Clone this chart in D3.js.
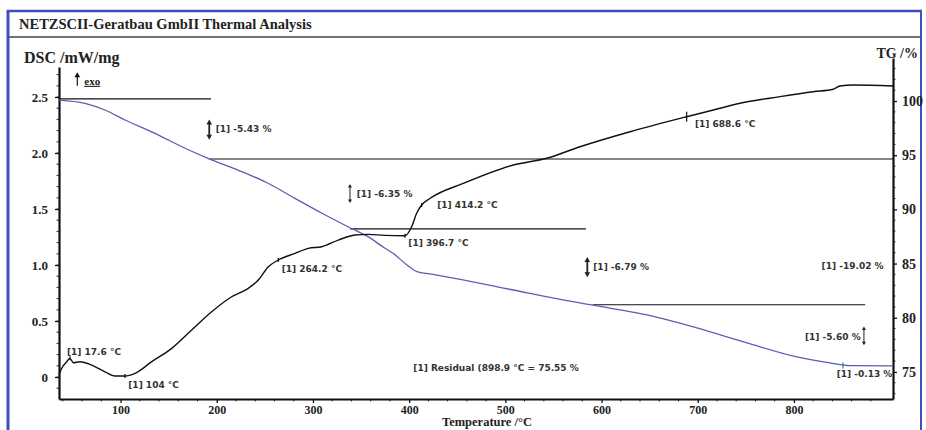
<!DOCTYPE html>
<html>
<head>
<meta charset="utf-8">
<script src="https://cdn.jsdelivr.net/npm/d3@7"></script>
<style>
body { margin: 0; background: #fff; }
</style>
</head>
<body>
<script>
// --- data ---
var dscTemp = [36, 38.8, 44, 47.4, 50.9, 57.8, 70, 83.8, 94.2, 104.6, 115, 132.4, 153.2, 173.9, 194.7, 215.5, 232.8, 243.2, 253.6, 264, 281.3, 295.2, 309.1, 326.3, 343.7, 357.5, 374.9, 395.7, 402.6, 407.8, 413, 421.9, 456.3, 508.3, 543, 577.6, 629.6, 688.5, 716.2, 743.9, 785.5, 820.1, 840.9, 847.8, 861.7, 903];
var dscVal  = [0.018, 0.078, 0.137, 0.167, 0.128, 0.137, 0.107, 0.047, 0.009, 0.009, 0.033, 0.137, 0.256, 0.42, 0.583, 0.717, 0.792, 0.866, 0.985, 1.045, 1.104, 1.149, 1.163, 1.223, 1.268, 1.274, 1.265, 1.262, 1.342, 1.462, 1.536, 1.596, 1.729, 1.893, 1.953, 2.056, 2.19, 2.324, 2.384, 2.444, 2.503, 2.547, 2.569, 2.598, 2.607, 2.598];

var tgTemp = [36, 63, 83.8, 104.6, 135.8, 167, 190.9, 222, 253.3, 281.3, 309.4, 336.4, 357.2, 374.9, 383.2, 397.7, 408.1, 421.7, 456, 508, 559.9, 595.3, 647.2, 699.2, 751.2, 803.2, 837.5, 858.2, 903];
var tgVal  = [100.09, 99.79, 99.17, 98.25, 97.02, 95.64, 94.71, 93.63, 92.41, 91.02, 89.64, 88.40, 87.48, 86.41, 85.95, 84.87, 84.25, 84.04, 83.49, 82.56, 81.64, 81.09, 80.26, 79.06, 77.68, 76.38, 75.83, 75.58, 75.55];

// step baselines (TG)
var stepFrom  = [36, 192, 338.5, 591];
var stepTo    = [194, 903, 583.8, 874];
var stepLevel = [100.2, 94.65, 88.2, 81.2];

var xTicks   = [100, 200, 300, 400, 500, 600, 700, 800];
var dscTicks = [0, 0.5, 1.0, 1.5, 2.0, 2.5];
var dscTickLabels = ["0", "0.5", "1.0", "1.5", "2.0", "2.5"];
var tgTicks  = [75, 80, 85, 90, 95, 100];

// annotations: text, temperature, DSC value of the baseline
var noteText = ["[1] 17.6 \u00B0C", "[1] 104 \u00B0C", "[1]  264.2 \u00B0C", "[1]  -5.43 %", "[1] 414.2 \u00B0C", "[1] 396.7 \u00B0C", "[1] 688.6 \u00B0C", "[1] -6.35 %", "[1]  -6.79 %", "[1] -19.02 %", "[1] -5.60 %", "[1] Residual (898.9 \u00B0C = 75.55 %", "[1] -0.13 %"];
var noteTemp = [44.3, 108, 267.5, 198.9, 429.2, 399.1, 697.1, 345.5, 591.4, 828.8, 811.5, 404.3, 844.4];
var noteVal  = [0.196, -0.098, 0.9375, 2.1875, 1.509, 1.174, 2.232, 1.607, 0.96, 0.964, 0.33, 0.054, 0.0];

// double arrows for the mass steps: temperature, DSC from, DSC to, bold?
var arrowTemp = [192.2, 338.5, 585.2, 872.8];
var arrowTop  = [2.288, 1.72, 1.06, 0.449];
var arrowBot  = [2.131, 1.556, 0.902, 0.286];
var arrowBold = [true, false, true, false];

// marked points on the DSC curve
var peakTemp = [47.4, 104.6, 264, 395.7, 413, 688.5];
var peakVal  = [0.167, 0.009, 1.045, 1.262, 1.536, 2.324];

var width = 926, height = 430;
var serif = "'Liberation Serif', 'Times New Roman', serif";
var sans = "'DejaVu Sans', Verdana, sans-serif";

var svg = d3.select("body").append("svg").attr("width", width).attr("height", height);

// frame
svg.append("line").attr("x1", 7).attr("y1", 11).attr("x2", 922).attr("y2", 11).style("stroke", "#3f4fc0").style("stroke-width", 2.5);
svg.append("line").attr("x1", 8).attr("y1", 10).attr("x2", 8).attr("y2", 430).style("stroke", "#3f4fc0").style("stroke-width", 3);
svg.append("line").attr("x1", 921).attr("y1", 10).attr("x2", 921).attr("y2", 430).style("stroke", "#3f4fc0").style("stroke-width", 2);
svg.append("line").attr("x1", 9).attr("y1", 37).attr("x2", 920).attr("y2", 37).style("stroke", "#444").style("stroke-width", 1.5);

svg.append("text").text("NETZSCII-Geratbau GmbII Thermal Analysis")
    .attr("x", 19).attr("y", 29).style("font-family", serif).style("font-weight", "bold").style("font-size", "14.5px").style("fill", "#222");

var x = d3.scaleLinear().domain([36, 903]).range([59, 893]);
var yL = d3.scaleLinear().domain([-0.196, 2.768]).range([399, 67]);
var yR = d3.scaleLinear().domain([72.5, 103.97]).range([399, 58]);

// minor ticks
var gMinor = svg.append("g").style("stroke", "#333").style("stroke-width", 1);
d3.range(40, 901, 20).forEach(function(t) {
    if (t % 100 === 0) return;
    gMinor.append("line").attr("x1", x(t)).attr("x2", x(t)).attr("y1", 399).attr("y2", 401.5);
});
d3.range(-0.1, 2.71, 0.1).forEach(function(v) {
    gMinor.append("line").attr("x1", 59).attr("x2", 56.5).attr("y1", yL(v)).attr("y2", yL(v));
});
d3.range(73, 104, 1).forEach(function(v) {
    if (v % 5 === 0) return;
    gMinor.append("line").attr("x1", 893).attr("x2", 895.5).attr("y1", yR(v)).attr("y2", yR(v));
});

var styleAxis = function(g) {
    g.select(".domain").style("stroke", "#111").style("stroke-width", 2.2);
    g.selectAll(".tick line").style("stroke", "#111").style("stroke-width", 1.3);
    g.selectAll(".tick text").style("font-family", serif).style("font-weight", "bold").style("font-size", "13px").style("fill", "#222");
};

var gx = svg.append("g").attr("transform", "translate(0,399)")
    .call(d3.axisBottom(x).tickValues(xTicks).tickSize(4).tickSizeOuter(0).tickPadding(2));
styleAxis(gx);
gx.selectAll(".tick text").style("font-size", "12px");

var gl = svg.append("g").attr("transform", "translate(59,0)")
    .call(d3.axisLeft(yL).tickValues(dscTicks).tickSize(4).tickSizeOuter(0).tickPadding(7)
        .tickFormat(function(d, i) { return dscTickLabels[i]; }));
styleAxis(gl);

var gr = svg.append("g").attr("transform", "translate(893,0)")
    .call(d3.axisRight(yR).tickValues(tgTicks).tickSize(4).tickSizeOuter(0).tickPadding(5));
styleAxis(gr);
gr.selectAll(".tick text").style("font-size", "14px");

// axis titles
svg.append("text").text("DSC /mW/mg").attr("x", 24).attr("y", 63)
    .style("font-family", serif).style("font-weight", "bold").style("font-size", "16px").style("fill", "#222");
svg.append("text").text("TG /%").attr("x", 918).attr("y", 58).attr("text-anchor", "end")
    .style("font-family", serif).style("font-weight", "bold").style("font-size", "14px").style("fill", "#222");
svg.append("text").text("Temperature /\u00B0C").attr("x", 487).attr("y", 426).attr("text-anchor", "middle")
    .style("font-family", serif).style("font-weight", "bold").style("font-size", "12.5px").style("fill", "#222");

// exo marker
svg.append("line").attr("x1", x(55)).attr("x2", x(55)).attr("y1", yL(2.6)).attr("y2", yL(2.7))
    .style("stroke", "#111").style("stroke-width", 1.2);
svg.append("path").attr("d", d3.symbol().type(d3.symbolTriangle).size(14)).attr("transform", "translate(" + x(55) + "," + (yL(2.7) + 1) + ")").style("fill", "#111");
svg.append("text").text("exo").attr("x", x(55) + 7).attr("y", yL(2.6) - 1)
    .style("font-family", serif).style("font-weight", "bold").style("font-size", "11px").style("fill", "#222")
    .style("text-decoration", "underline");

// step baselines
for (var i = 0; i < stepLevel.length; i++) {
    svg.append("line").attr("x1", x(stepFrom[i])).attr("x2", x(stepTo[i]))
        .attr("y1", yR(stepLevel[i])).attr("y2", yR(stepLevel[i]))
        .style("stroke", "#111").style("stroke-width", 1.2);
}

// curves
var tgData = tgTemp.map(function(t, i) { return [t, tgVal[i]]; });
var dscData = dscTemp.map(function(t, i) { return [t, dscVal[i]]; });

svg.append("path").datum(tgData)
    .attr("d", d3.line().x(function(d) { return x(d[0]); }).y(function(d) { return yR(d[1]); }).curve(d3.curveMonotoneX))
    .style("fill", "none").style("stroke", "#5860b0").style("stroke-width", 1.3);

svg.append("path").datum(dscData)
    .attr("d", d3.line().x(function(d) { return x(d[0]); }).y(function(d) { return yL(d[1]); }).curve(d3.curveMonotoneX))
    .style("fill", "none").style("stroke", "#111").style("stroke-width", 1.4);

// point marks on DSC
peakTemp.forEach(function(t, i) {
    var h = (t > 600) ? 5 : 2;
    svg.append("line").attr("x1", x(t)).attr("x2", x(t)).attr("y1", yL(peakVal[i]) - h).attr("y2", yL(peakVal[i]) + h)
        .style("stroke", "#111").style("stroke-width", 1.2);
});
// residual mark on TG
svg.append("line").attr("x1", x(851)).attr("x2", x(851)).attr("y1", yR(75.6) - 3).attr("y2", yR(75.6) + 3)
    .style("stroke", "#5860b0").style("stroke-width", 1.2);

// step arrows
arrowTemp.forEach(function(t, i) {
    var w = arrowBold[i] ? 1.8 : 1;
    var sz = arrowBold[i] ? 14 : 7;
    var ax = x(t);
    svg.append("line").attr("x1", ax).attr("x2", ax).attr("y1", yL(arrowTop[i]) + 2).attr("y2", yL(arrowBot[i]) - 2)
        .style("stroke", "#222").style("stroke-width", w);
    svg.append("path").attr("d", d3.symbol().type(d3.symbolTriangle).size(sz))
        .attr("transform", "translate(" + ax + "," + (yL(arrowTop[i]) + 2) + ")").style("fill", "#222");
    svg.append("path").attr("d", d3.symbol().type(d3.symbolTriangle).size(sz))
        .attr("transform", "translate(" + ax + "," + (yL(arrowBot[i]) - 2) + ") rotate(180)").style("fill", "#222");
});

// annotation texts
noteText.forEach(function(s, i) {
    svg.append("text").text(s).attr("x", x(noteTemp[i])).attr("y", yL(noteVal[i]))
        .style("font-family", sans).style("font-size", "9px").style("font-weight", "bold").style("fill", "#333");
});
</script>
</body>
</html>
